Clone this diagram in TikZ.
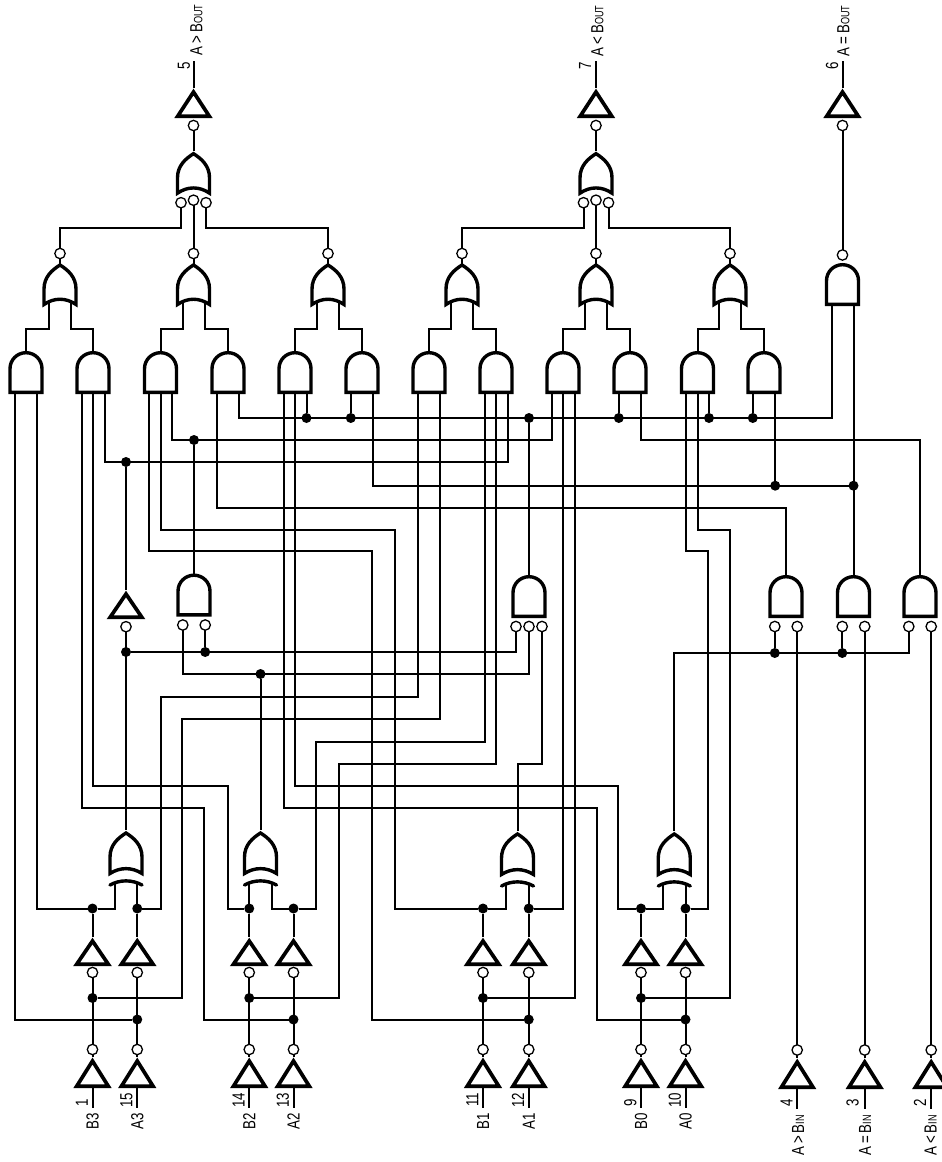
\documentclass[tikz,border=0pt]{standalone}
\usepackage{fontspec}
\newfontfamily\labfont[FakeStretch=0.76]{Liberation Sans}
\newcommand{\smallcap}[1]{{\fontsize{12pt}{12pt}\selectfont #1}}
\tikzset{
  wire/.style={line width=2pt,line join=miter,line cap=butt},
  gate/.style={line width=3.4pt,line join=miter,miter limit=10},
  thin gate/.style={line width=3.4pt,line cap=butt},
  bub/.style={circle,draw,fill=white,line width=1.3pt,inner sep=0pt,minimum size=10.4pt,outer sep=0pt},
  dot/.style={circle,fill=black,inner sep=0pt,minimum size=10pt,outer sep=0pt},
  lab/.style={inner sep=0pt,rotate=90,font=\labfont\fontsize{17.5pt}{17.5pt}\selectfont},
  pics/andbody/.style={code={
    \draw[gate] (-16,41.3) -- (-16,17.7) .. controls (-16,8.75) and (-8.85,1.7) .. (0,1.7)
      .. controls (8.85,1.7) and (16,8.75) .. (16,17.7) -- (16,41.3) -- cycle;
    \coordinate (-o) at (0,0);
  }},
  pics/andtwo/.style={code={
    \pic {andbody};
    \coordinate (-o) at (0,0);
    \coordinate (-a) at (-11.2,43);
    \coordinate (-b) at (11.2,43);
  }},
  pics/andthree/.style={code={
    \pic {andbody};
    \coordinate (-o) at (0,0);
    \coordinate (-a) at (-11.5,43);
    \coordinate (-b) at (0,43);
    \coordinate (-c) at (11.5,43);
  }},
  pics/nandtwo/.style={code={
    \pic {andbody};
    \coordinate (-o) at (0,0);
    \node[bub] (-a) at (-11.2,51.5) {};
    \node[bub] (-b) at (11.2,51.5) {};
  }},
  pics/nandthree/.style={code={
    \pic {andbody};
    \coordinate (-o) at (0,0);
    \node[bub] (-a) at (-13,51.5) {};
    \node[bub] (-b) at (0,51.5) {};
    \node[bub] (-c) at (13,51.5) {};
  }},
  pics/orbody/.style={code={
    \draw[gate] (-16,42.5) -- (-16,27) .. controls (-16,15) and (-8,8) .. (0,3)
      .. controls (8,8) and (16,15) .. (16,27) -- (16,42.5)
      .. controls (6,35.5) and (-6,35.5) .. (-16,42.5) -- cycle;
  }},
  pics/ortwo/.style={code={
    \pic {orbody};
    \draw[wire] (0,3) -- (0,-8.5);
    \node[bub] (-o) at (0,-8.5) {};
    \coordinate (-a) at (-11,39.5);
    \coordinate (-b) at (11,39.5);
  }},
  pics/northree/.style={code={
    \pic {orbody};
    \coordinate (-o) at (0,0);
    \node[bub] (-a) at (-12.5,52) {};
    \node[bub] (-c) at (12.5,52) {};
    \node[bub] (-b) at (0,49.5) {};
  }},
  pics/xorg/.style={code={
    \draw[gate] (-16,43.5) -- (-16,27) .. controls (-16,15) and (-8,8) .. (0,3)
      .. controls (8,8) and (16,15) .. (16,27) -- (16,43.5)
      .. controls (6,37) and (-6,37) .. (-16,43.5) -- cycle;
    \draw[thin gate,line cap=round] (-16,55) .. controls (-6,49.5) and (6,49.5) .. (16,55);
    \coordinate (-o) at (0,0);
    \coordinate (-a) at (-11.25,52);
    \coordinate (-b) at (11.25,52);
  }},
  pics/invg/.style={code={
    \draw[gate,line width=3.7pt] (0,4) -- (15.8,#1-1.8) -- (-15.8,#1-1.8) -- cycle;
    \coordinate (-o) at (0,0);
    \coordinate (-i) at (0,#1);
  }}
}
\begin{document}
\begin{tikzpicture}[x=1pt,y=-1pt]
\useasboundingbox (0,0) rectangle (942,1162);
\clip (0,0) rectangle (942,1162);
% --- top AND row
\foreach \n/\xx in {1/26,4/228,6/362,7/429,10/630,12/764}
  \pic (T\n) at (\xx,351) {andtwo};
\foreach \n/\xx in {2/93,3/160.5,5/295,8/496,9/563,11/697.5}
  \pic (T\n) at (\xx,351) {andthree};
% --- OR row
\foreach \n/\xx in {1/60,2/193.5,3/328,4/462,5/596,6/730}
  \pic (O\n) at (\xx,262) {ortwo};
% --- right output AND
\pic (Te) at (842.5,263) {andtwo};
\node[bub] (TeB) at (842.5,255) {};
\coordinate (Te-a) at (831.5,306);
\coordinate (Te-b) at (853.5,306);
% --- output NORs and inverters
\pic (N1) at (193.5,150.7) {northree};
\pic (N2) at (596,150.7) {northree};
\foreach \n/\xx in {1/193.5,2/596,3/842.5}{
  \pic (Z\n) at (\xx,88) {invg=30};
  \node[bub] (ZB\n) at (\xx,125.5) {};
}
\coordinate (outa) at (193.5,61);
\coordinate (outb) at (596,61);
\coordinate (outc) at (842.5,61);
% --- middle gates
\pic (G1) at (194,573.5) {nandtwo};
\pic (G2) at (529,575) {nandthree};
\pic (M) at (126,590) {invg=29};
\node[bub] (MB) at (126,626.7) {};
\pic (R1) at (786,575) {nandtwo};
\pic (R2) at (853.5,575) {nandtwo};
\pic (R3) at (920,575) {nandtwo};
% --- XOR gates
\pic (X1) at (126,830) {xorg};
\pic (X2) at (260.5,830) {xorg};
\pic (X3) at (517.5,831) {xorg};
\pic (X4) at (674.25,831) {xorg};
% --- input stacks
\foreach \n/\xx in {a/92.5,b/137.25,c/249.25,d/293.5,e/483,f/528.75,g/641,h/685.5}{
  \pic (U\n) at (\xx,937) {invg=29};
  \node[bub] (UB\n) at (\xx,972.5) {};
  \node[dot] (D\n) at (\xx,908.5) {};
  \pic (L\n) at (\xx,1057) {invg=31};
  \node[bub] (LB\n) at (\xx,1049.5) {};
  \coordinate (in\n) at (\xx,1108);
  \draw[wire] (LB\n) -- (UB\n);
  \draw[wire] (L\n-o) -- (LB\n);
  \draw[wire] (L\n-i) -- (in\n);
  \draw[wire] (U\n-o) -- (D\n);
}
\foreach \n/\xx in {a/92.5,c/249.25,e/483,g/641}
  \node[dot] (E\n) at (\xx,998) {};
\foreach \n/\xx in {b/137.25,d/293.5,f/528.75,h/685.5}
  \node[dot] (F\n) at (\xx,1019.5) {};
% --- extra inputs
\foreach \n/\xx in {1/797.2,2/864.7,3/931.2}{
  \pic (P\n) at (\xx,1058) {invg=31};
  \node[bub] (PB\n) at (\xx,1050) {};
  \coordinate (pin\n) at (\xx,1109);
  \draw[wire] (P\n-i) -- (pin\n);
  \draw[wire] (P\n-o) -- (PB\n);
}
% --- route corners
\coordinate (rowN) at (0,228);
\coordinate (rowO) at (0,328.5);
\coordinate (c1) at (160.5,697);
\coordinate (c2) at (182,718.5);
\coordinate (c3) at (316,742);
\coordinate (c4) at (339,763.5);
\coordinate (c5) at (T2-c |- 0,462);
\coordinate (c6) at (204,808);
\coordinate (c7) at (227.7,785.5);
\coordinate (c8) at (T3-c |- 0,440);
\coordinate (c9) at (372,551);
\coordinate (c10) at (395,530);
\coordinate (c11) at (786,507.7);
\coordinate (c12) at (T4-b |- 0,418);
\coordinate (c13) at (596.7,808);
\coordinate (c14) at (618,785.5);
\coordinate (c15) at (T6-b |- 0,485.7);
\coordinate (c16) at (T10-b |- 0,440);
\coordinate (c17) at (707.7,551);
\coordinate (c18) at (730,530);
\coordinate (c19) at (G1-a |- 0,674);
\coordinate (c20) at (G2-c |- 0,763.5);
\coordinate (c21) at (674.25,653);
% --- junction dots
\node[dot] (J1) at (126,462) {};
\node[dot] (J2) at (194,440) {};
\node[dot] (J3) at (T5-c |- c12) {};
\node[dot] (J4) at (T6-a |- c12) {};
\node[dot] (J5) at (529,418) {};
\node[dot] (J6) at (T10-a |- c12) {};
\node[dot] (J7) at (T11-c |- c12) {};
\node[dot] (J8) at (T12-a |- c12) {};
\node[dot] (J9) at (T12-b |- c15) {};
\node[dot] (J10) at (Te-b |- c15) {};
\node[dot] (J11) at (126,652) {};
\node[dot] (J12) at (G1-b |- J11) {};
\node[dot] (J13) at (260.5,674) {};
\node[dot] (J14) at (R1-a |- c21) {};
\node[dot] (J15) at (R2-a |- c21) {};
% --- wires: outputs
\draw[wire] (Z1-o) -- (outa);
\draw[wire] (Z2-o) -- (outb);
\draw[wire] (Z3-o) -- (outc);
\draw[wire] (ZB1) -- (N1-o);
\draw[wire] (ZB2) -- (N2-o);
\draw[wire] (ZB3) -- (TeB);
\draw[wire] (N1-a) -- (N1-a |- rowN) -| (O1-o);
\draw[wire] (N1-b) -- (O2-o);
\draw[wire] (N1-c) -- (N1-c |- rowN) -| (O3-o);
\draw[wire] (N2-a) -- (N2-a |- rowN) -| (O4-o);
\draw[wire] (N2-b) -- (O5-o);
\draw[wire] (N2-c) -- (N2-c |- rowN) -| (O6-o);
% --- OR to AND
\foreach \o/\l/\r in {1/1/2,2/3/4,3/5/6,4/7/8,5/9/10,6/11/12}{
  \draw[wire] (O\o-a) -- (O\o-a |- rowO) -| (T\l-o);
  \draw[wire] (O\o-b) -- (O\o-b |- rowO) -| (T\r-o);
}
% --- AND inputs
\draw[wire] (T1-a) |- (Fb);
\draw[wire] (T1-b) |- (Da);
\draw[wire] (Da) -| (X1-a);
\draw[wire] (Db) -- (X1-b);
\draw[wire] (T7-a) |- (c1) |- (Db);
\draw[wire] (T7-b) |- (c2) |- (Ea);
\draw[wire] (T8-a) |- (c3) |- (Dd);
\draw[wire] (T8-b) |- (c4) |- (Ec);
\draw[wire] (T2-c) -- (c5) -| (T8-c);
\draw[wire] (J1) -- (M-o);
\draw[wire] (T2-a) |- (c6) |- (Fd);
\draw[wire] (T2-b) |- (c7) |- (Dc);
\draw[wire] (Dc) -- (X2-a);
\draw[wire] (Dd) -| (X2-b);
\draw[wire] (T3-c) -- (c8) -| (T9-a);
\draw[wire] (J2) -- (G1-o);
\draw[wire] (T3-a) |- (c9) |- (Ff);
\draw[wire] (T3-b) |- (c10) |- (De);
\draw[wire] (De) -| (X3-a);
\draw[wire] (Df) -- (X3-b);
\draw[wire] (T9-b) |- (Df);
\draw[wire] (T9-c) |- (Ee);
\draw[wire] (T4-a) |- (c11) -- (R1-o);
\draw[wire] (T4-b) -- (c12) -| (Te-a);
\draw[wire] (T5-c) -- (J3);
\draw[wire] (T6-a) -- (J4);
\draw[wire] (J5) -- (G2-o);
\draw[wire] (T10-a) -- (J6);
\draw[wire] (T11-c) -- (J7);
\draw[wire] (T12-a) -- (J8);
\draw[wire] (T5-a) |- (c13) |- (Fh);
\draw[wire] (T5-b) |- (c14) |- (Dg);
\draw[wire] (Dg) -| (X4-a);
\draw[wire] (Dh) -- (X4-b);
\draw[wire] (T6-b) -- (c15) -- (J10);
\draw[wire] (T12-b) -- (J9);
\draw[wire] (T10-b) -- (c16) -| (R3-o);
\draw[wire] (T11-a) |- (c17) |- (Dh);
\draw[wire] (T11-b) |- (c18) |- (Eg);
\draw[wire] (Te-b) -- (R2-o);
% --- middle gates
\draw[wire] (G1-a) -- (c19) -| (G2-b);
\draw[wire] (G1-b) -- (J12);
\draw[wire] (J11) -| (G2-a);
\draw[wire] (MB) -- (X1-o);
\draw[wire] (J13) -- (X2-o);
\draw[wire] (G2-c) -- (c20) -| (X3-o);
\draw[wire] (X4-o) -- (c21) -| (R3-a);
\draw[wire] (R1-a) -- (J14);
\draw[wire] (R2-a) -- (J15);
\draw[wire] (R1-b) -- (PB1);
\draw[wire] (R2-b) -- (PB2);
\draw[wire] (R3-b) -- (PB3);
% --- labels
\node[lab] (n5) at (184,66) {5};
\node[lab] (t5) at (196.5,30) {A\,>\,B\smallcap{OUT}};
\node[lab] (n7) at (585,66) {7};
\node[lab] (t7) at (597.5,31) {A\,<\,B\smallcap{OUT}};
\node[lab] (n6) at (832,66) {6};
\node[lab] (t6) at (843.5,31) {A\,=\,B\smallcap{OUT}};
\foreach \t/\m/\xx/\yy/\s in {B3/1/92.5/1103/a,A3/15/137.25/1100/b,B2/14/249.25/1100/c,A2/13/293.5/1100/d,B1/11/483/1100/e,A1/12/528.75/1100/f,B0/9/641/1103/g,A0/10/685.5/1100/h}{
  \node[lab] (num\s) at (\xx-10.7,\yy) {\m};
  \node[lab] (txt\s) at (\xx,1121) {\t};
}
\node[lab] (n4) at (786.7,1103) {4};
\node[lab] (t4) at (798,1135.5) {A\,>\,B\smallcap{IN}};
\node[lab] (n3) at (852.7,1103) {3};
\node[lab] (t3) at (865,1135.5) {A\,=\,B\smallcap{IN}};
\node[lab] (n2) at (920,1103) {2};
\node[lab] (t2) at (930.7,1135.5) {A\,<\,B\smallcap{IN}};
\end{tikzpicture}
\end{document}
